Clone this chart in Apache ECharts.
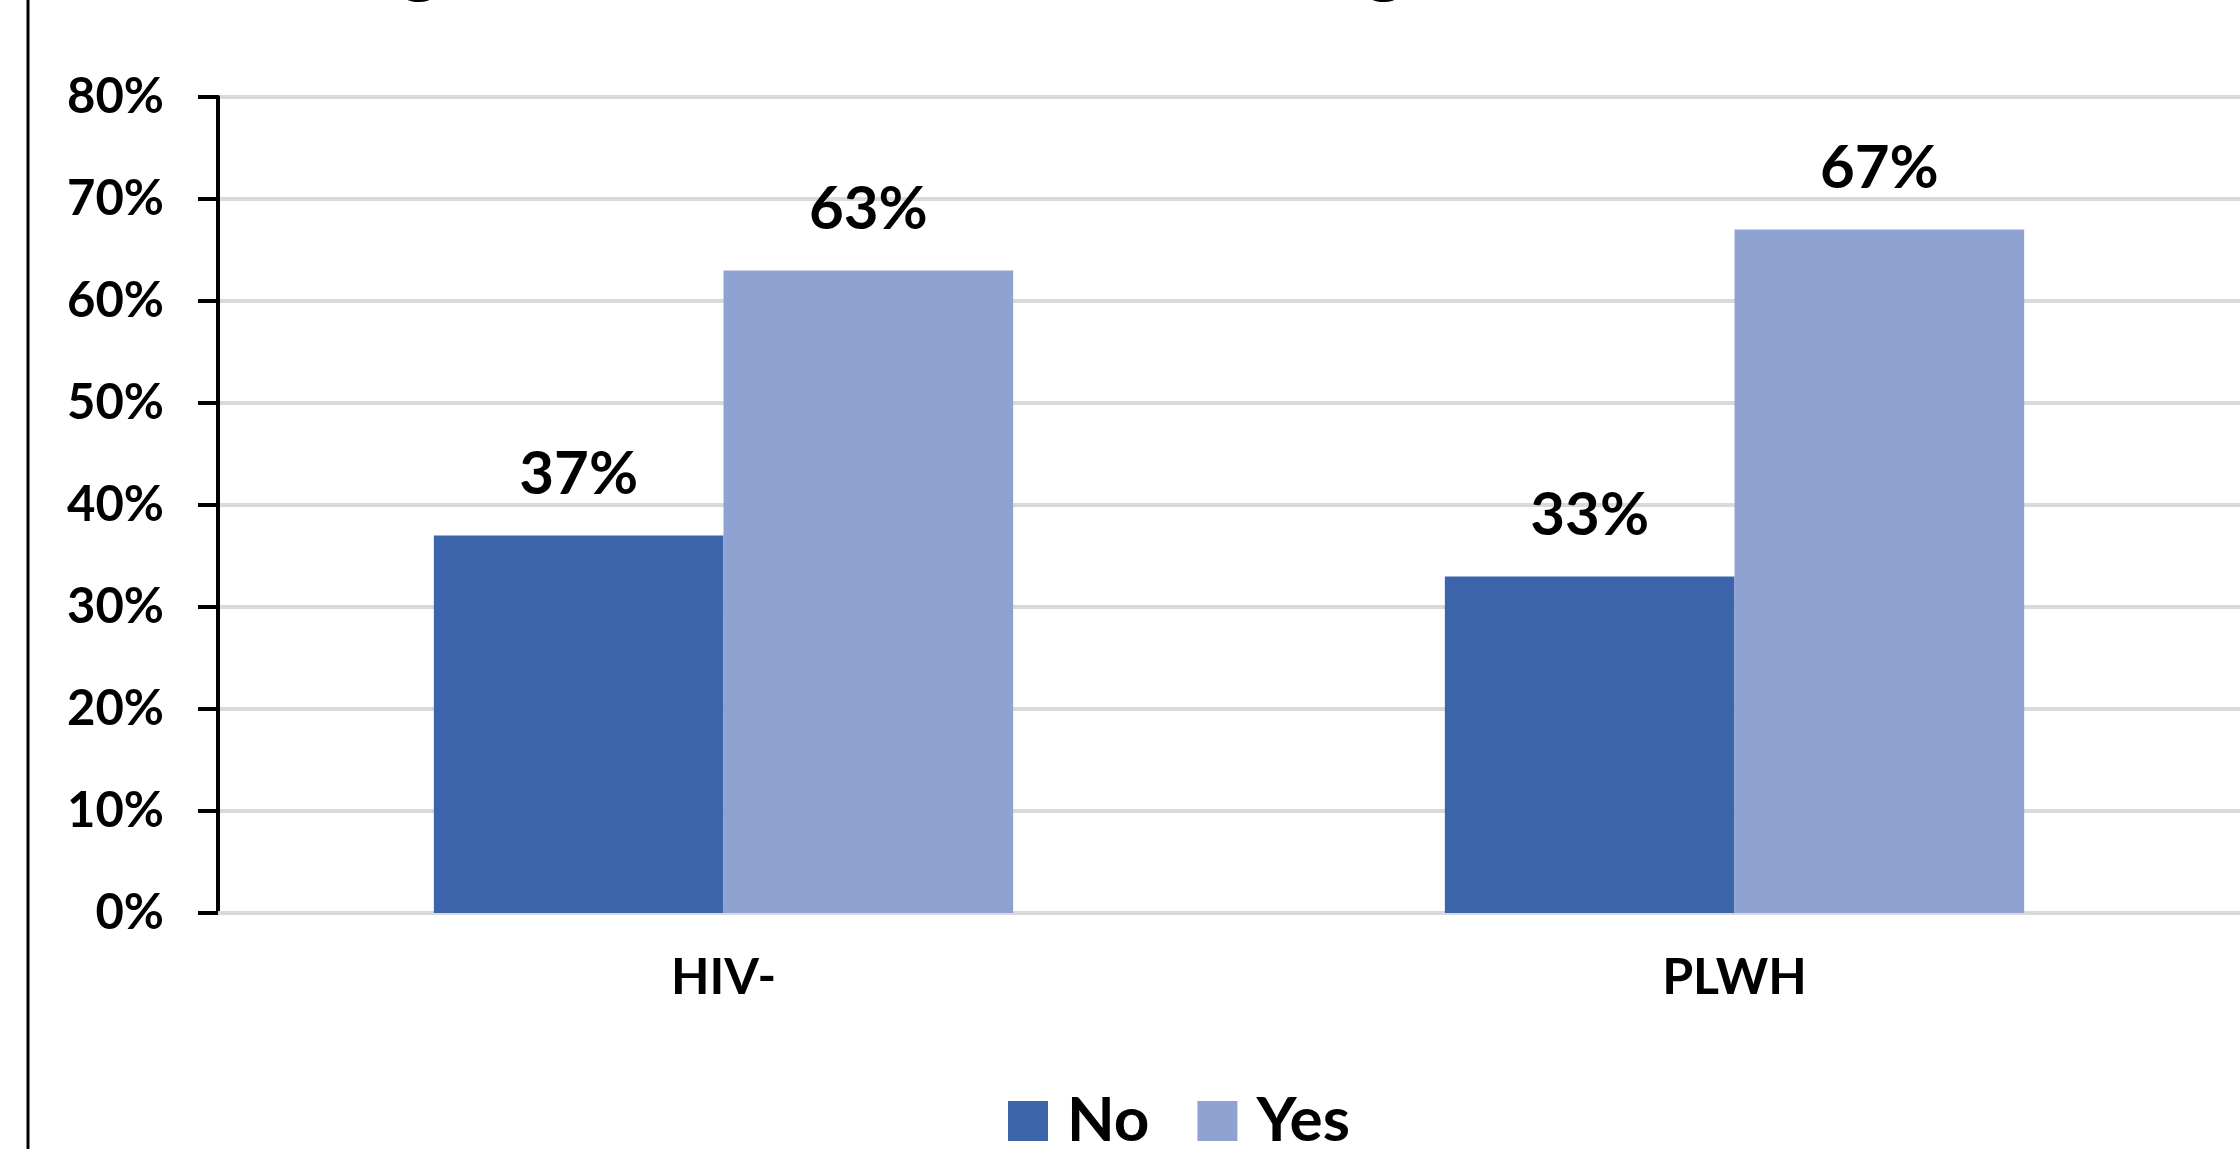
<!DOCTYPE html>
<html>
<head>
<meta charset="utf-8">
<title>No / Yes by HIV status</title>
<script src="https://cdn.jsdelivr.net/npm/echarts@6/dist/echarts.min.js"></script>
<style>
  html, body { margin: 0; padding: 0; background: #ffffff; }
  #chart { width: 2240px; height: 1149px; }
</style>
</head>
<body>
<div id="chart"></div>
<script>
// Groups shown along the x axis
const categories = ['HIV-', 'PLWH'];
// Share of respondents per answer, in percent
const noValues = [37, 33];
const yesValues = [63, 67];
// Percent axis
const yMin = 0;
const yMax = 80;
const yStep = 10;

const FONT = 'Lato, "Liberation Sans", Arial, sans-serif';
const INK = '#000000';
const NO_COLOR = '#3c64ab';
const YES_COLOR = '#8fa3d3';
const GRID_COLOR = '#d9d9d9';

const chart = echarts.init(document.getElementById('chart'), null, { renderer: 'canvas' });

const valueLabel = {
  show: true,
  position: 'top',
  distance: 31,
  formatter: '{c}%',
  fontFamily: FONT,
  fontSize: 60,
  fontWeight: 'bold',
  color: INK
};

chart.setOption({
  backgroundColor: '#ffffff',
  animation: false,
  textStyle: { fontFamily: FONT },
  grid: { left: 218, right: -4, top: 97, bottom: 236, containLabel: false },
  legend: {
    data: ['No', 'Yes'],
    left: 1008,
    top: 1090,
    padding: 0,
    icon: 'rect',
    itemWidth: 40,
    itemHeight: 40,
    itemGap: 48,
    textStyle: {
      fontFamily: FONT,
      fontSize: 62,
      fontWeight: 'bold',
      color: INK,
      padding: [0, 0, 0, 14]
    }
  },
  xAxis: {
    type: 'category',
    data: categories,
    axisLine: { show: true, lineStyle: { color: GRID_COLOR, width: 4 } },
    axisTick: { show: false },
    axisLabel: {
      margin: 40,
      fontFamily: FONT,
      fontSize: 50,
      fontWeight: 'bold',
      color: INK
    },
    splitLine: { show: false }
  },
  yAxis: {
    type: 'value',
    min: yMin,
    max: yMax,
    interval: yStep,
    axisLine: { show: true, lineStyle: { color: INK, width: 4 } },
    axisTick: { show: true, inside: false, length: 20, lineStyle: { color: INK, width: 4 } },
    axisLabel: {
      margin: 54,
      formatter: '{value}%',
      fontFamily: FONT,
      fontSize: 49,
      fontWeight: 'bold',
      color: INK
    },
    splitLine: { show: true, lineStyle: { color: GRID_COLOR, width: 4 } }
  },
  series: [
    {
      name: 'No',
      type: 'bar',
      data: noValues,
      barGap: '0%',
      barCategoryGap: '42.7%',
      itemStyle: { color: NO_COLOR },
      label: valueLabel
    },
    {
      name: 'Yes',
      type: 'bar',
      data: yesValues,
      barGap: '0%',
      barCategoryGap: '42.7%',
      itemStyle: { color: YES_COLOR },
      label: valueLabel
    }
  ],
  graphic: [
    // frame edge on the left side of the chart area
    {
      type: 'line',
      shape: { x1: 28, y1: 0, x2: 28, y2: 1149 },
      style: { stroke: INK, lineWidth: 3 }
    },
    // lower parts of the heading's letters, which runs above the top edge
    {
      type: 'text',
      x: 420,
      y: 1,
      style: {
        text: 'g',
        font: 'bold 80px ' + FONT,
        fill: INK,
        align: 'center',
        verticalAlign: 'bottom'
      }
    },
    {
      type: 'text',
      x: 1385,
      y: 1,
      style: {
        text: 'g',
        font: 'bold 80px ' + FONT,
        fill: INK,
        align: 'center',
        verticalAlign: 'bottom'
      }
    }
  ]
});
</script>
</body>
</html>
